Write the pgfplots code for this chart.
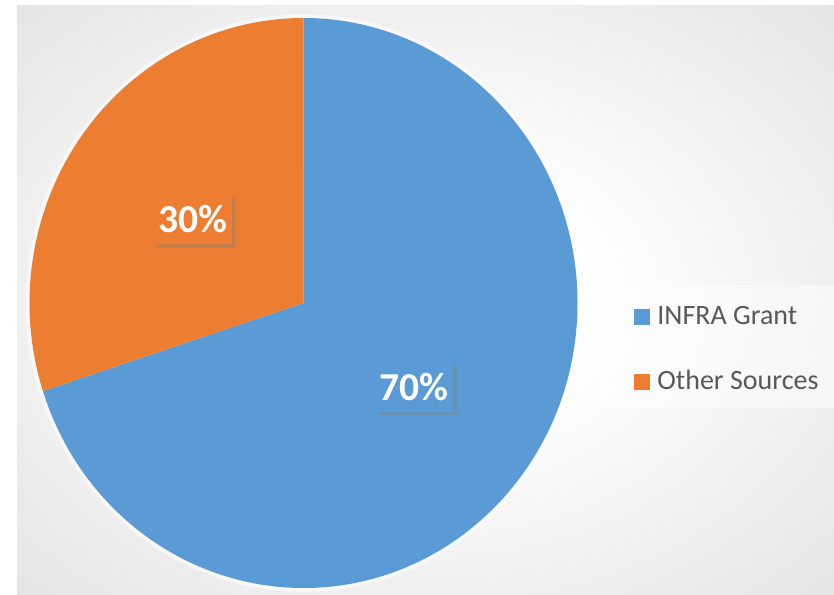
\documentclass[border=0pt]{standalone}
\usepackage{pgfplots}
\pgfplotsset{compat=1.18}
\usepackage{pgfplotstable}
\usepackage{fontspec}
\setmainfont{Carlito}
\usetikzlibrary{shadows}
\definecolor{pieblue}{HTML}{5B9BD5}
\definecolor{pieorange}{HTML}{ED7D31}
\definecolor{legtext}{HTML}{595959}
\pgfdeclareradialshading{bgshade}{\pgfpoint{0bp}{0bp}}{color(0bp)=(white); color(10bp)=(white); color(32bp)=(black!9); color(50bp)=(black!15); color(72bp)=(black!17)}
\pgfplotstableread{
name value
INFRA 70
Other 30
}\piedata
\begin{document}
\begin{tikzpicture}
\pgfplotstablegetelem{0}{value}\of\piedata \let\va\pgfplotsretval
\pgfplotstablegetelem{1}{value}\of\piedata \let\vb\pgfplotsretval
\pgfmathsetmacro\angB{90-3.6*\va}
\pgfmathsetmacro\midA{90-1.8*\va}
\pgfmathsetmacro\midB{\angB-1.8*\vb}
\pgfmathtruncatemacro\pa{\va}
\pgfmathtruncatemacro\pb{\vb}
\fill[white] (0pt,0pt) rectangle (417pt,297pt);
\shade[shading=bgshade] (8.5pt,0pt) rectangle (417pt,294pt);
\begin{axis}[at={(0pt,0pt)}, anchor=south west, scale only axis, width=417pt, height=297pt,
  xmin=0, xmax=834, ymin=0, ymax=594, hide axis, clip=false]
\draw[white, opacity=0.6, line width=2.5pt] (axis cs:303.5,291) ellipse[x radius=137.6pt, y radius=143.1pt];
\fill[pieblue] (axis cs:303.5,291) -- ++(90:137pt and 142.5pt) arc[start angle=90, end angle=\angB, x radius=137pt, y radius=142.5pt] -- cycle;
\fill[pieorange] (axis cs:303.5,291) -- ++(\angB:137pt and 142.5pt) arc[start angle=\angB, end angle=-270, x radius=137pt, y radius=142.5pt] -- cycle;
\node[fill=pieorange, text=white, font=\bfseries\fontsize{19.8}{22}\selectfont, minimum width=39pt, minimum height=25pt, inner sep=0pt,
  drop shadow={shadow xshift=1.8pt, shadow yshift=-1.8pt, opacity=0.35}]
  at ([shift={(\midB:68.5pt and 71.25pt)}]axis cs:303.5,291) {\pb\%};
\node[fill=pieblue, text=white, font=\bfseries\fontsize{19.8}{22}\selectfont, minimum width=39pt, minimum height=25pt, inner sep=0pt,
  drop shadow={shadow xshift=1.8pt, shadow yshift=-1.8pt, opacity=0.35}]
  at ([shift={(\midA:68.5pt and 71.25pt)}]axis cs:303.5,291) {\pa\%};
\fill[white, opacity=0.45] (axis cs:600,309) rectangle (axis cs:834,186);
\fill[pieblue] (axis cs:634,269) rectangle (axis cs:650,285);
\fill[pieorange] (axis cs:634,204) rectangle (axis cs:650,220);
\node[anchor=base west, inner sep=0pt, text=legtext, font=\fontsize{14}{16}\selectfont] at (axis cs:657,269) {INFRA Grant};
\node[anchor=base west, inner sep=0pt, text=legtext, font=\fontsize{14}{16}\selectfont] at (axis cs:657,204) {Other Sources};
\end{axis}
\end{tikzpicture}
\end{document}
